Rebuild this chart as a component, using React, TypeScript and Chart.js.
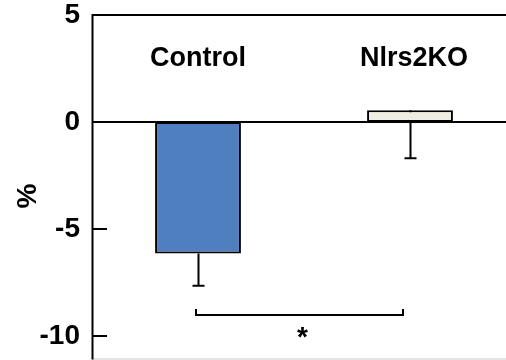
import React, { useEffect, useRef } from "react";
import { Chart, registerables } from "chart.js";

Chart.register(...registerables);

// ---- data ----
const categories = ["Control", "Nlrs2KO"];
const means = [-6.15, 0.55];
const errors = [1.5, 2.25];
const barColors = ["#4F7FBE", "#EEEDE2"];
const yTicks = [5, 0, -5, -10];
const yMin = -11.1;
const yMax = 5;
const yLabel = "%";
const categoryLabelLevel = 3;
const bracketLevel = -9;
const bracketMark = "*";

const FONT = "'Liberation Sans', Arial, sans-serif";

const decor = {
  id: "decor",
  beforeDatasetsDraw(chart: any) {
    const { ctx, scales } = chart;
    const x = scales.x;
    const y = scales.y;
    ctx.save();
    ctx.strokeStyle = "#000";
    ctx.lineWidth = 2;
    means.forEach((m, i) => {
      const cx = Math.round(x.getPixelForValue(i)) + 0.5;
      const y0 = y.getPixelForValue(m);
      const y1 = y.getPixelForValue(m - errors[i]);
      ctx.beginPath();
      ctx.moveTo(cx, y0);
      ctx.lineTo(cx, y1);
      ctx.moveTo(cx - 6, y1);
      ctx.lineTo(cx + 6, y1);
      ctx.stroke();
    });
    ctx.restore();
  },
  afterDatasetsDraw(chart: any) {
    const { ctx, chartArea: a, scales } = chart;
    const x = scales.x;
    const y = scales.y;
    ctx.save();
    // bottom light line
    ctx.strokeStyle = "#c8c8c8";
    ctx.lineWidth = 1;
    ctx.beginPath();
    ctx.moveTo(a.left, a.bottom - 0.5);
    ctx.lineTo(a.right, a.bottom - 0.5);
    ctx.stroke();

    ctx.strokeStyle = "#000";
    ctx.lineWidth = 2;
    // top line and zero line
    [yMax, 0].forEach((v) => {
      const py = Math.round(y.getPixelForValue(v));
      ctx.beginPath();
      ctx.moveTo(a.left, py);
      ctx.lineTo(a.right, py);
      ctx.stroke();
    });
    // y axis line
    ctx.beginPath();
    ctx.moveTo(a.left + 0.5, y.getPixelForValue(yMax) - 1);
    ctx.lineTo(a.left + 0.5, a.bottom);
    ctx.stroke();
    // inner ticks
    yTicks
      .filter((v) => v < 0)
      .forEach((v) => {
        const py = Math.round(y.getPixelForValue(v));
        ctx.beginPath();
        ctx.moveTo(a.left, py);
        ctx.lineTo(a.left + 15, py);
        ctx.stroke();
      });

    // category labels
    ctx.fillStyle = "#000";
    ctx.font = `bold 27px ${FONT}`;
    ctx.textAlign = "center";
    ctx.textBaseline = "middle";
    categories.forEach((c, i) => {
      ctx.fillText(c, x.getPixelForValue(i) + (i === 1 ? 4 : 0), y.getPixelForValue(categoryLabelLevel) + 1);
    });

    // significance bracket
    const bx0 = Math.round(x.getPixelForValue(0)) - 2;
    const bx1 = Math.round(x.getPixelForValue(1)) - 7;
    const by = Math.round(y.getPixelForValue(bracketLevel));
    ctx.beginPath();
    ctx.moveTo(bx0, by - 6);
    ctx.lineTo(bx0, by);
    ctx.lineTo(bx1, by);
    ctx.lineTo(bx1, by - 6);
    ctx.stroke();
    ctx.font = `bold 28px ${FONT}`;
    ctx.textBaseline = "alphabetic";
    ctx.fillText(bracketMark, (bx0 + bx1) / 2 + 3, by + 31);

    // y axis title
    ctx.save();
    ctx.translate(28, 196);
    ctx.rotate(-Math.PI / 2);
    ctx.font = `bold 28px ${FONT}`;
    ctx.textAlign = "center";
    ctx.textBaseline = "middle";
    ctx.fillText(yLabel, 0, 0);
    ctx.restore();

    ctx.restore();
  },
};

export default function App() {
  const ref = useRef<HTMLCanvasElement | null>(null);
  useEffect(() => {
    if (!ref.current) return;
    const chart = new Chart(ref.current, {
      type: "bar",
      data: {
        labels: categories,
        datasets: [
          {
            data: means,
            backgroundColor: barColors,
            borderColor: "#000",
            borderWidth: 2,
            borderSkipped: false,
            barPercentage: 0.405,
            categoryPercentage: 1,
          },
        ],
      },
      options: {
        animation: false,
        responsive: false,
        devicePixelRatio: 1,
        layout: { padding: { top: 15, right: 24, bottom: 20.5, left: 0 } },
        plugins: { legend: { display: false }, tooltip: { enabled: false } },
        scales: {
          x: { display: false },
          y: {
            min: yMin,
            max: yMax,
            afterBuildTicks: (s: any) => {
              s.ticks = yTicks.map((v) => ({ value: v }));
            },
            afterFit: (s: any) => {
              s.width = 92;
              s.paddingTop = 0;
              s.paddingBottom = 0;
            },
            grid: { display: false, drawTicks: false },
            border: { display: false },
            ticks: {
              padding: 12,
              color: "#000",
              font: { family: FONT, weight: "bold", size: 28 },
              callback: (v: any) => String(v),
            },
          },
        },
      },
      plugins: [decor],
    } as any);
    return () => chart.destroy();
  }, []);
  return (
    <div
      style={{
        position: "fixed",
        left: 0,
        top: 0,
        width: 506,
        height: 360,
        overflow: "hidden",
        background: "#fff",
      }}
    >
      <canvas ref={ref} width={540} height={380} style={{ display: "block", width: 540, height: 380 }} />
    </div>
  );
}
